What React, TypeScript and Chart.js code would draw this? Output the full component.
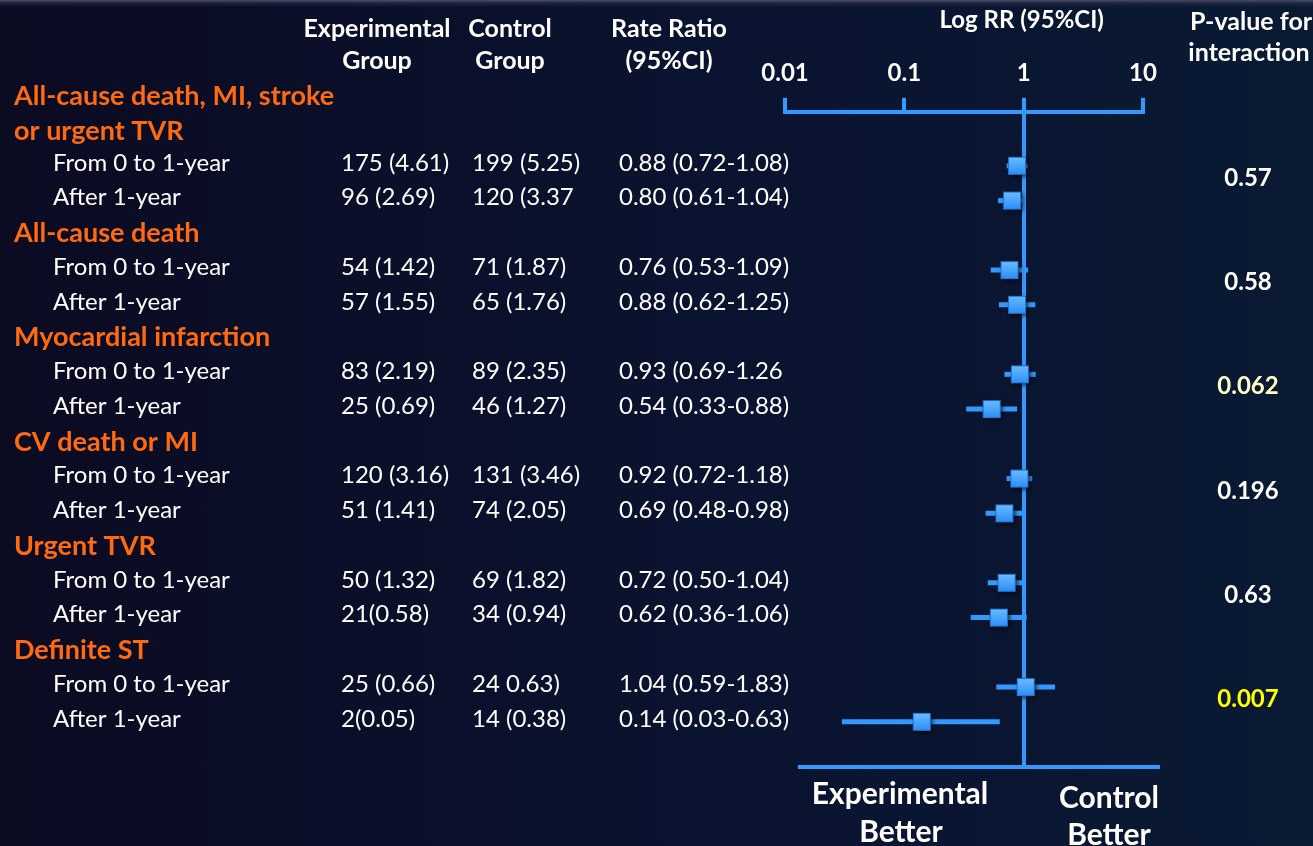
import React, { useEffect, useRef } from "react";
import { Chart, registerables } from "chart.js";

Chart.register(...registerables);

// ---------- DATA ----------
const groupTitles: string[][] = [
  ["All-cause death, MI, stroke", "or urgent TVR"],
  ["All-cause death"],
  ["Myocardial infarction"],
  ["CV death or MI"],
  ["Urgent TVR"],
  ["Definite ST"],
];
const periodLabels = ["From 0 to 1-year", "After 1-year"];
const experimentalEvents = [
  "175 (4.61)", "96 (2.69)", "54 (1.42)", "57 (1.55)", "83 (2.19)", "25 (0.69)",
  "120 (3.16)", "51 (1.41)", "50 (1.32)", "21(0.58)", "25 (0.66)", "2(0.05)",
];
const controlEvents = [
  "199 (5.25)", "120 (3.37", "71 (1.87)", "65 (1.76)", "89 (2.35)", "46 (1.27)",
  "131 (3.46)", "74 (2.05)", "69 (1.82)", "34 (0.94)", "24 0.63)", "14 (0.38)",
];
const rateRatioText = [
  "0.88 (0.72-1.08)", "0.80 (0.61-1.04)", "0.76 (0.53-1.09)", "0.88 (0.62-1.25)",
  "0.93 (0.69-1.26", "0.54 (0.33-0.88)", "0.92 (0.72-1.18)", "0.69 (0.48-0.98)",
  "0.72 (0.50-1.04)", "0.62 (0.36-1.06)", "1.04 (0.59-1.83)", "0.14 (0.03-0.63)",
];
const rateRatio = [0.88, 0.8, 0.76, 0.88, 0.93, 0.54, 0.92, 0.69, 0.72, 0.62, 1.04, 0.14];
const ciLow = [0.72, 0.61, 0.53, 0.62, 0.69, 0.33, 0.72, 0.48, 0.5, 0.36, 0.59, 0.03];
const ciHigh = [1.08, 1.04, 1.09, 1.25, 1.26, 0.88, 1.18, 0.98, 1.04, 1.06, 1.83, 0.63];
const pInteraction = ["0.57", "0.58", "0.062", "0.196", "0.63", "0.007"];
const axisTicks = [0.01, 0.1, 1, 10];

// ---------- STYLE ----------
const FONT = "Lato, 'Open Sans', sans-serif";
const BLUE = "#3399ff";
const ORANGE = "#ff6a10";
const pColor = ["#ffffff", "#ffffff", "#ffffc8", "#ffffff", "#ffffff", "#ffff00"];

const rowIndex = (i: number) => 3 * Math.floor(i / 2) + (i % 2) + 1;

function makeMarker(): HTMLCanvasElement {
  const c = document.createElement("canvas");
  c.width = 32;
  c.height = 32;
  const g = c.getContext("2d")!;
  const s = 18;
  const x0 = 16 - s / 2;
  const y0 = 16 - s / 2;
  g.save();
  g.shadowColor = "rgba(0,0,0,0.65)";
  g.shadowBlur = 4;
  g.shadowOffsetX = 2;
  g.shadowOffsetY = 2;
  g.fillStyle = "#2f8ff0";
  g.fillRect(x0, y0, s, s);
  g.restore();
  const grad = g.createLinearGradient(0, y0, 0, y0 + s);
  grad.addColorStop(0, "#6cbcff");
  grad.addColorStop(0.5, "#4aa6ff");
  grad.addColorStop(1, "#2b8cf2");
  g.fillStyle = grad;
  g.fillRect(x0, y0, s, s);
  g.strokeStyle = "#1f74d8";
  g.lineWidth = 1;
  g.strokeRect(x0 + 0.5, y0 + 0.5, s - 1, s - 1);
  return c;
}

const errorBarPlugin = {
  id: "errorBars",
  beforeDatasetsDraw(chart: any) {
    const { ctx, scales } = chart;
    const xs = scales.x;
    const ys = scales.y;
    ctx.save();
    ctx.strokeStyle = BLUE;
    ctx.lineWidth = 5;
    rateRatio.forEach((_, i) => {
      const y = ys.getPixelForValue(rowIndex(i));
      ctx.beginPath();
      ctx.moveTo(xs.getPixelForValue(ciLow[i]), y);
      ctx.lineTo(xs.getPixelForValue(ciHigh[i]), y);
      ctx.stroke();
    });
    ctx.restore();
  },
};

const textPlugin = {
  id: "tableText",
  afterDraw(chart: any) {
    const { ctx, scales, chartArea } = chart;
    const ys = scales.y;
    const xs = scales.x;
    const yp = (k: number) => ys.getPixelForValue(k);
    const txt = (
      s: string, x: number, y: number, size: number, bold: boolean,
      color: string, align: CanvasTextAlign = "left"
    ) => {
      ctx.font = `${bold ? "bold " : ""}${size}px ${FONT}`;
      ctx.fillStyle = color;
      ctx.textAlign = align;
      ctx.textBaseline = "middle";
      ctx.fillText(s, x, y);
    };
    ctx.save();
    // bottom baseline
    ctx.strokeStyle = BLUE;
    ctx.lineWidth = 4;
    ctx.beginPath();
    ctx.moveTo(chartArea.left + 13, chartArea.bottom);
    ctx.lineTo(chartArea.right + 17, chartArea.bottom);
    ctx.stroke();

    // headers
    txt("Experimental", 377, 29, 25, true, "#fff", "center");
    txt("Group", 377, 61, 25, true, "#fff", "center");
    txt("Control", 510, 29, 25, true, "#fff", "center");
    txt("Group", 510, 61, 25, true, "#fff", "center");
    txt("Rate Ratio", 669, 29, 25, true, "#fff", "center");
    txt("(95%CI)", 669, 61, 25, true, "#fff", "center");
    txt("Log RR (95%CI)", xs.getPixelForValue(1) - 2, 20, 24, true, "#fff", "center");
    txt("P-value for", 1251, 22, 25, true, "#fff", "center");
    txt("interaction", 1249, 53, 25, true, "#fff", "center");

    groupTitles.forEach((lines, g) => {
      lines.forEach((l, j) => {
        const k = 3 * g - (lines.length - 1 - j);
        txt(l, 14, yp(k) - (lines.length > 1 ? 0 : 2), 27, true, ORANGE);
      });
    });
    rateRatio.forEach((_, i) => {
      const y = yp(rowIndex(i)) - 3;
      txt(periodLabels[i % 2], 53, y, 24, false, "#fff");
      txt(experimentalEvents[i], 341, y, 24, false, "#fff");
      txt(controlEvents[i], 472, y, 24, false, "#fff");
      txt(rateRatioText[i], 619, y, 24, false, "#fff");
    });
    pInteraction.forEach((p, g) => {
      txt(p, 1248, yp(3 * g + 1.5) - 5, 24, true, pColor[g], "center");
    });

    txt("Experimental", 900, 794, 30, true, "#fff", "center");
    txt("Better", 901, 832, 30, true, "#fff", "center");
    txt("Control", 1109, 798, 30, true, "#fff", "center");
    txt("Better", 1109, 835, 30, true, "#fff", "center");
    ctx.restore();
  },
};

export default function App() {
  const ref = useRef<HTMLCanvasElement | null>(null);
  useEffect(() => {
    if (!ref.current) return;
    const marker = makeMarker();
    const chart = new Chart(ref.current, {
      type: "scatter",
      data: {
        datasets: [
          {
            label: "Rate ratio",
            data: rateRatio.map((v, i) => ({ x: v, y: rowIndex(i) })),
            pointStyle: marker as any,
            pointRadius: 10,
            pointHoverRadius: 10,
          },
        ],
      },
      options: {
        responsive: false,
        animation: false,
        devicePixelRatio: 1,
        events: [],
        layout: { padding: { left: 785, right: 170, top: 49, bottom: 79 } },
        plugins: { legend: { display: false }, tooltip: { enabled: false } },
        scales: {
          x: {
            type: "logarithmic",
            position: "top",
            min: 0.01,
            max: 10,
            afterBuildTicks: (s: any) => {
              s.ticks = axisTicks.map((v) => ({ value: v }));
            },
            ticks: {
              color: "#fff",
              padding: 10,
              font: { family: FONT, size: 24, weight: "bold" },
              callback: (v: any) => String(v),
              maxRotation: 0,
              autoSkip: false,
            },
            grid: {
              drawOnChartArea: true,
              color: (c: any) => (c.tick && c.tick.value === 1 ? BLUE : "rgba(0,0,0,0)"),
              lineWidth: 4,
              tickColor: BLUE,
              tickWidth: 4,
              tickLength: 14,
            },
            border: { display: true, color: BLUE, width: 4 },
          },
          y: {
            type: "linear",
            display: false,
            reverse: true,
            min: -0.556,
            max: 18.3,
          },
        },
      },
      plugins: [errorBarPlugin, textPlugin],
    });
    return () => chart.destroy();
  }, []);

  return (
    <div
      style={{
        position: "fixed",
        left: 0,
        top: 0,
        width: 1313,
        height: 846,
        background:
          "linear-gradient(to bottom, rgba(80,84,110,0.9) 0px, rgba(45,48,75,0.6) 3px, rgba(0,0,0,0) 7px), linear-gradient(to right, #0b0b22 0%, #0a1330 55%, #0a1a33 100%)",
      }}
    >
      <canvas ref={ref} width={1313} height={846} style={{ display: "block" }} />
    </div>
  );
}
